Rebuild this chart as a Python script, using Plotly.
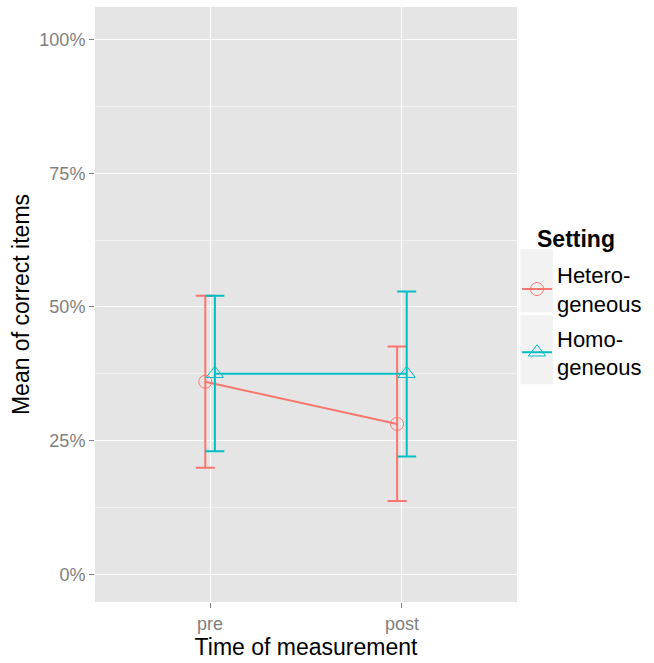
import plotly.graph_objects as go

# Measurement occasions and group summaries (mean with interval bounds)
times = ["pre", "post"]
time_pos = [1, 2]

hetero_mean = [0.360, 0.281]
hetero_low = [0.199, 0.137]
hetero_high = [0.521, 0.426]

homo_mean = [0.375, 0.375]
homo_low = [0.230, 0.220]
homo_high = [0.521, 0.529]

group_names = ["Hetero-<br>geneous", "Homo-<br>geneous"]
group_colors = ["#F8766D", "#00BFC4"]
group_symbols = ["circle-open", "triangle-up-open"]
dodge = 0.025

fig = go.Figure()

series = [
    (hetero_mean, hetero_low, hetero_high, -dodge, 13),
    (homo_mean, homo_low, homo_high, dodge, 15),
]
for i, (mean, low, high, off, msize) in enumerate(series):
    fig.add_trace(go.Scatter(
        x=[p + off for p in time_pos],
        y=mean,
        mode="lines+markers",
        name=group_names[i],
        legendgroup=f"g{i}",
        line=dict(color=group_colors[i], width=2),
        marker=dict(symbol=group_symbols[i], size=msize, color=group_colors[i],
                    line=dict(width=1, color=group_colors[i])),
        error_y=dict(
            type="data", symmetric=False,
            array=[h - m for h, m in zip(high, mean)],
            arrayminus=[m - l for m, l in zip(mean, low)],
            color=group_colors[i], thickness=2, width=9.5,
        ),
    ))

font_family = "Liberation Sans, Arial, sans-serif"

# light key backgrounds behind the legend entries (paper coordinates)
key_boxes = [(1.008, 1.085, 0.487, 0.593), (1.008, 1.085, 0.366, 0.482)]
shapes = [
    dict(type="rect", xref="paper", yref="paper", x0=x0, x1=x1, y0=y0, y1=y1,
         fillcolor="#F2F2F2", line=dict(width=0), layer="below")
    for x0, x1, y0, y1 in key_boxes
]

fig.update_layout(
    width=654, height=663,
    margin=dict(l=95, r=137, t=7, b=54),
    paper_bgcolor="white",
    plot_bgcolor="#E5E5E5",
    font=dict(family=font_family, color="black"),
    showlegend=True,
    shapes=shapes,
    annotations=[dict(
        text="<b>Setting</b>", xref="paper", yref="paper",
        x=1.0427, y=0.6096, xanchor="left", yanchor="middle",
        showarrow=False, font=dict(size=23, color="black"),
    )],
    legend=dict(
        font=dict(size=22, color="black"),
        x=1.0, xanchor="left", y=0.585, yanchor="top",
        bgcolor="rgba(0,0,0,0)",
        itemwidth=30,
        tracegroupgap=3,
    ),
    xaxis=dict(
        range=[0.4, 2.6],
        tickvals=time_pos, ticktext=times,
        showgrid=True, gridcolor="white", gridwidth=1,
        zeroline=False, showline=False,
        ticks="outside", ticklen=5, tickcolor="#7F7F7F", tickwidth=1,
        tickfont=dict(size=18, color="#7F7F7F"),
        title=dict(text="Time of measurement", font=dict(size=23, color="black"), standoff=6),
    ),
    yaxis=dict(
        range=[-0.052, 1.061],
        tickvals=[0, 0.25, 0.5, 0.75, 1.0],
        ticktext=["0%", "25%", "50%", "75%", "100%"],
        showgrid=True, gridcolor="white", gridwidth=1,
        minor=dict(dtick=0.125, tick0=0, showgrid=True, gridcolor="#F2F2F2", gridwidth=0.6),
        zeroline=False, showline=False,
        ticks="outside", ticklen=5, tickcolor="#7F7F7F", tickwidth=1,
        tickfont=dict(size=18, color="#7F7F7F"),
        title=dict(text="Mean of correct items", font=dict(size=23, color="black"), standoff=3),
    ),
)

fig.write_html("out.html")
